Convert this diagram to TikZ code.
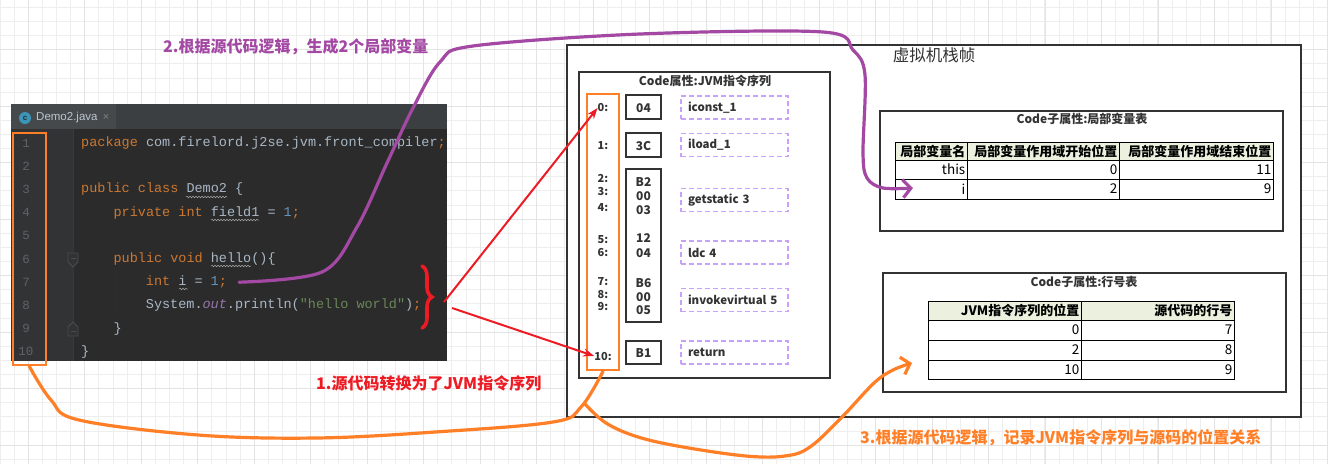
\documentclass[tikz,border=0pt]{standalone}
\usepackage{fontspec}
\usetikzlibrary{arrows.meta, decorations.pathreplacing, decorations.pathmorphing}
\newfontfamily\cjk{Noto Sans CJK SC}
\newfontfamily\codefont[WordSpace={1,0,0}]{Liberation Mono}
\newfontfamily\uifont{Liberation Sans}

\definecolor{ideBg}{HTML}{2B2B2B}
\definecolor{ideGutter}{HTML}{313335}
\definecolor{ideTab}{HTML}{3C3F41}
\definecolor{ideTabOn}{HTML}{46494B}
\definecolor{ideKw}{HTML}{CC7832}
\definecolor{ideTxt}{HTML}{A9B7C6}
\definecolor{ideNum}{HTML}{6897BB}
\definecolor{ideStr}{HTML}{6A8759}
\definecolor{ideOut}{HTML}{9876AA}
\definecolor{ideLn}{HTML}{606366}
\definecolor{ideIcon}{HTML}{3A95B8}
\definecolor{penOrange}{HTML}{FF7F27}
\definecolor{penRed}{HTML}{ED1C24}
\definecolor{penPurple}{HTML}{A349A4}
\definecolor{opLilac}{HTML}{C8A2F8}
\definecolor{headGreen}{HTML}{EBF1DE}
\definecolor{boxLine}{HTML}{333333}
\definecolor{gridMinor}{HTML}{EEEEEE}
\definecolor{gridMajor}{HTML}{E3E3E3}

\newcommand{\kwd}[1]{\textcolor{ideKw}{#1}}
\newcommand{\jnum}[1]{\textcolor{ideNum}{#1}}
\newcommand{\jstr}[1]{\textcolor{ideStr}{#1}}
\newcommand{\jout}[1]{\textcolor{ideOut}{\itshape #1}}

\tikzset{
  codeline/.style={anchor=west, inner sep=0pt, text height=10pt, text depth=3pt,
    font=\codefont\fontsize{13.5}{16}\selectfont, text=ideTxt},
  lnum/.style={inner sep=0pt, font=\codefont\fontsize{12.5}{15}\selectfont, text=ideLn},
  squiggle/.style={draw=gray!70, line width=0.5pt, decorate,
    decoration={snake, amplitude=0.8pt, segment length=3pt}},
  attrbox/.style={draw=boxLine, line width=2pt, fill=white},
  attrtitle/.style={inner sep=0pt, font=\cjk\bfseries\fontsize{12}{14}\selectfont, text=boxLine},
  offlabel/.style={inner sep=0pt, font=\cjk\bfseries\fontsize{11}{13}\selectfont, text=boxLine},
  hexlabel/.style={inner sep=0pt, font=\cjk\bfseries\fontsize{12}{14}\selectfont, text=boxLine},
  hexbox/.style={draw=boxLine, line width=1.8pt},
  opbox/.style={draw=opLilac, dash pattern=on 5pt off 3pt, line width=1.6pt,
    minimum width=107pt, minimum height=23pt, text width=93pt, inner xsep=7pt, align=left,
    font=\cjk\bfseries\fontsize{11.5}{14}\selectfont, text=boxLine},
  tablerule/.style={draw=black, line width=1pt},
  headcell/.style={anchor=east, inner sep=1.5pt, font=\cjk\bfseries\fontsize{13}{15}\selectfont},
  datacell/.style={anchor=east, inner sep=1.5pt, font=\cjk\fontsize{13.5}{15}\selectfont},
  note/.style={anchor=west, inner sep=0pt, font=\cjk\bfseries\fontsize{16}{18}\selectfont},
  orangebox/.style={draw=penOrange, line width=2.6pt},
  penline/.style={line width=3.2pt, line cap=round, line join=round},
  orangepen/.style={penline, draw=penOrange},
  purplepen/.style={penline, draw=penPurple},
  redpen/.style={draw=penRed, line width=2pt, -{Stealth[length=11pt,width=8pt]}}
}

\begin{document}
\begin{tikzpicture}[x=1pt, y=-1pt]
\useasboundingbox (0,0) rectangle (1328,464);
\fill[white] (0,0) rectangle (1328,464);

% background grid
\foreach \gx in {0,...,94}
  \draw[gridMinor, line width=0.8pt] ({\gx*14.12},0) -- ({\gx*14.12},464);
\foreach \gy in {0,...,32}
  \draw[gridMinor, line width=0.8pt] (0,{7.3+\gy*14.12}) -- (1328,{7.3+\gy*14.12});
\foreach \gx in {0,...,23}
  \draw[gridMajor, line width=0.8pt] ({28.2+\gx*56.5},0) -- ({28.2+\gx*56.5},464);
\foreach \gy in {0,...,7}
  \draw[gridMajor, line width=0.8pt] (0,{49.5+\gy*56.5}) -- (1328,{49.5+\gy*56.5});

% code editor
\fill[ideBg] (11,104) rectangle (447,361);
\fill[ideGutter] (11,129) rectangle (73,361);
\fill[ideTab] (11,104) rectangle (447,129);
\fill[ideTabOn] (11,104) rectangle (116,129);
\node[circle, fill=ideIcon, minimum size=12pt, inner sep=0pt, text=ideBg,
  font=\uifont\bfseries\fontsize{8}{8}\selectfont] (tabIcon) at (25,118) {c};
\node[anchor=west, inner sep=0pt, text=ideTxt!80!white,
  font=\uifont\fontsize{11.5}{13}\selectfont] (tabName) at (36,118) {Demo2.java};
\node[inner sep=0pt, text=gray, font=\uifont\fontsize{11}{13}\selectfont] (tabClose) at (106,117) {×};
\draw[gray!45!black, line width=0.6pt] (73,129) -- (73,361);
\draw[gray!35!black, line width=0.6pt] (116,270) -- (116,318);
\draw[gray!60!black, fill=ideGutter, line width=0.8pt] (68,253) -- (78,253) -- (78,262) -- (73,267) -- (68,262) -- cycle;
\draw[gray!60!black, line width=0.8pt] (70.5,258) -- (75.5,258);
\draw[gray!60!black, fill=ideGutter, line width=0.8pt] (68,336) -- (78,336) -- (78,327) -- (73,322) -- (68,327) -- cycle;
\draw[gray!60!black, line width=0.8pt] (70.5,331) -- (75.5,331);

\foreach \n in {1,...,10}
  \node[lnum] (ln\n) at (26,{143+(\n-1)*23.2}) {\n};

\node[codeline] (codeOne) at (81,143) {\kwd{package} com.firelord.j2se.jvm.front\_compiler\kwd{;}};
\node[codeline] (codeThree) at (81,189.4) {\kwd{public class} Demo2 \{};
\node[codeline] (codeFour) at (113.4,212.6) {\kwd{private int} field1 = \jnum{1}\kwd{;}};
\node[codeline] (codeSix) at (113.4,259) {\kwd{public void} hello()\{};
\node[codeline] (codeSeven) at (145.7,282.2) {\kwd{int} i = \jnum{1}\kwd{;}};
\node[codeline] (codeEight) at (145.7,305.4) {System.\jout{out}.println(\jstr{"hello world"})\kwd{;}};
\node[codeline] (codeNine) at (113.4,328.6) {\}};
\node[codeline] (codeTen) at (81,351.8) {\}};

\draw[squiggle] (186,197) -- (227,197);
\draw[squiggle] (211,220) -- (259,220);
\draw[squiggle] (211,266) -- (251,266);
\draw[squiggle] (179,289) -- (188,289);

\node[orangebox, minimum width=33pt, minimum height=232pt] (lnBox) at (29.3,249) {};

% stack frame
\draw[attrbox] (567,45) rectangle (1301,417);
\node[inner sep=0pt, text=boxLine, font=\cjk\fontsize{16.5}{18}\selectfont] (frameTitle) at (934,55) {虚拟机栈帧};

% code attribute
\draw[attrbox] (579,72) rectangle (830,378);
\node[attrtitle] (codeTitle) at (705,81) {Code属性:JVM指令序列};
\node[orangebox, minimum width=32pt, minimum height=276pt] (offBox) at (603,232) {};
\foreach \o/\yy in {0/108, 1/146, 2/179, 3/192, 4/208, 5/240, 6/253, 7/282, 8/294, 9/307, 10/356}
  \node[offlabel] (off\o) at (603,\yy) {\o:};

\draw[hexbox] (626,95) rectangle (661,119);
\draw[hexbox] (626,133) rectangle (661,157);
\draw[hexbox] (626,169) rectangle (661,322);
\draw[hexbox] (626,341) rectangle (661,364);
\foreach \h/\yy [count=\k] in {04/108, 3C/146, B2/182, 00/196, 03/210, 12/238, 04/253, B6/283, 00/297, 05/310, B1/353}
  \node[hexlabel] (hex\k) at (643.5,\yy) {\h};

\node[opbox] (opOne) at (734.5,107.5) {iconst\_1};
\node[opbox] (opTwo) at (734.5,145) {iload\_1};
\node[opbox] (opThree) at (734.5,200) {getstatic 3};
\node[opbox] (opFour) at (734.5,252.5) {ldc 4};
\node[opbox] (opFive) at (734.5,300) {invokevirtual 5};
\node[opbox] (opSix) at (734.5,352.5) {return};

% local variable table
\draw[attrbox] (880,111) rectangle (1283,231);
\node[attrtitle] (varTitle) at (1082,119) {Code子属性:局部变量表};
\fill[headGreen] (895,142) rectangle (1273,160);
\draw[tablerule] (895,142) rectangle (1273,199);
\draw[tablerule] (895,160) -- (1273,160);
\draw[tablerule] (895,179) -- (1273,179);
\draw[tablerule] (967,142) -- (967,199);
\draw[tablerule] (1119,142) -- (1119,199);
\node[headcell] (varHeadA) at (967,151) {局部变量名};
\node[headcell] (varHeadB) at (1119,151) {局部变量作用域开始位置};
\node[headcell] (varHeadC) at (1273,151) {局部变量作用域结束位置};
\node[datacell] (varThis) at (967,169.5) {this};
\node[datacell] (varThisFrom) at (1119,169.5) {0};
\node[datacell] (varThisTo) at (1273,169.5) {11};
\node[datacell] (varI) at (967,189) {i};
\node[datacell] (varIFrom) at (1119,189) {2};
\node[datacell] (varITo) at (1273,189) {9};

% line number table
\draw[attrbox] (883,273) rectangle (1286,392);
\node[attrtitle] (lineTitle) at (1084,282) {Code子属性:行号表};
\fill[headGreen] (928,301) rectangle (1234,320);
\draw[tablerule] (928,301) rectangle (1234,379);
\draw[tablerule] (928,320) -- (1234,320);
\draw[tablerule] (928,340) -- (1234,340);
\draw[tablerule] (928,360) -- (1234,360);
\draw[tablerule] (1081,301) -- (1081,379);
\node[headcell] (lineHeadA) at (1081,310.5) {JVM指令序列的位置};
\node[headcell] (lineHeadB) at (1234,310.5) {源代码的行号};
\foreach \pc/\src/\yy [count=\k] in {0/7/330, 2/8/350, 10/9/369.5} {
  \node[datacell] (linePc\k) at (1081,\yy) {\pc};
  \node[datacell] (lineSrc\k) at (1234,\yy) {\src};
}

% notes
\node[note, text=penPurple] (noteVars) at (163,47) {2.根据源代码逻辑，生成2个局部变量};
\node[note, text=penRed] (noteCode) at (316,383) {1.源代码转换为了JVM指令序列};
\node[note, text=penOrange] (noteLines) at (860,438) {3.根据源代码逻辑，记录JVM指令序列与源码的位置关系};

% red brace and arrows
\draw[penRed, line width=3.6pt, line cap=round, decorate, decoration={brace, amplitude=10pt}] (422,266) -- (422,328);
\coordinate (braceTip) at (444,302);
\coordinate (braceLow) at (452,308);
\draw[redpen] (braceTip) -- (off0.west);
\draw[redpen] (braceLow) -- (off10.west);

% purple pen
\coordinate (varStart) at ([xshift=12pt]codeSeven.east);
\coordinate (varArrow) at (913,188);
\draw[purplepen, -{Straight Barb[length=8pt,width=18pt]}] plot[smooth, tension=0.55] coordinates {(varStart) (322,272) (357,227) (387,163) (413,108) (440,62) (473,46) (640,34) (823,32) (853,50) (865,75) (863,153) (867,178) (883,188) (varArrow)};

% orange pen
\draw[orangepen] plot[smooth, tension=0.6] coordinates {(lnBox.south) (51,400) (79,420) (198,435) (316,438) (435,432) (553,422) (581,407) (offBox.south)};
\coordinate (fork) at (585,404);
\coordinate (lineArrow) at (912,363);
\draw[orangepen, -{Straight Barb[length=8pt,width=18pt]}] plot[smooth, tension=0.6] coordinates {(fork) (606,423) (638,437) (683,447) (746,456) (785,456) (810,447) (842,417) (874,383) (893,370) (lineArrow)};

\end{tikzpicture}
\end{document}
